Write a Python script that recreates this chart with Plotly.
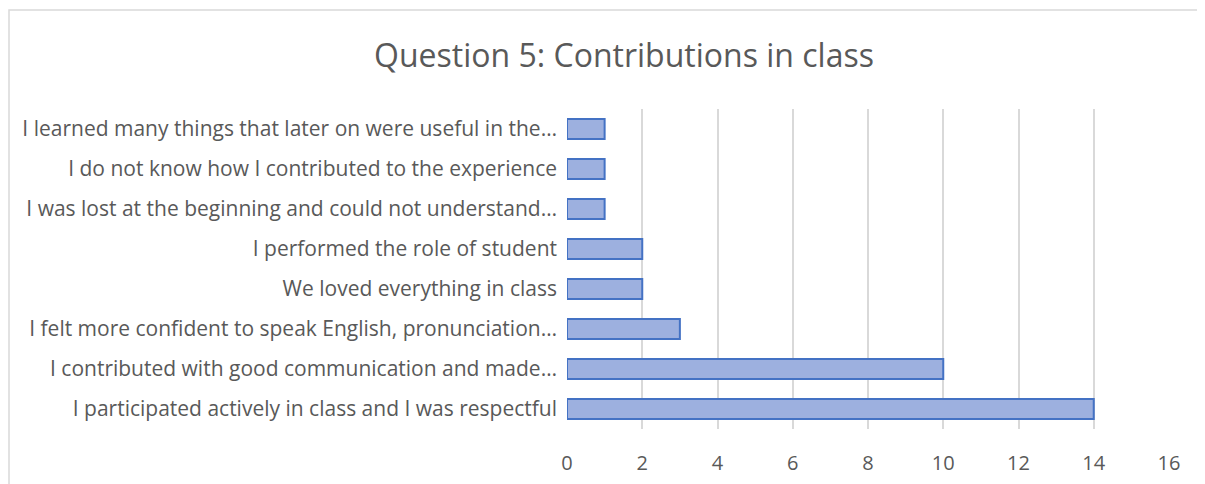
import plotly.graph_objects as go

# categories listed bottom to top, as drawn
categories = [
    "I participated actively in class and I was respectful",
    "I contributed with good communication and made…",
    "I felt more confident to speak English, pronunciation…",
    "We loved everything in class",
    "I performed the role of student",
    "I was lost at the beginning and could not understand…",
    "I do not know how I contributed to the experience",
    "I learned many things that later on were useful in the…",
]
counts = [14, 10, 3, 2, 2, 1, 1, 1]
x_ticks = [0, 2, 4, 6, 8, 10, 12, 14, 16]

font_family = "Open Sans, Liberation Sans, sans-serif"
grey = "#595959"

# the page has an 8px body margin, so the figure is sized to fill the rest
W, H = 1197, 476

fig = go.Figure()
fig.add_trace(go.Bar(
    x=counts,
    y=categories,
    orientation="h",
    marker=dict(color="#9DB0DF", line=dict(color="#4472C4", width=2)),
    width=0.5,
))

fig.update_layout(
    width=W,
    height=H,
    paper_bgcolor="white",
    plot_bgcolor="white",
    margin=dict(l=559, r=36, t=101, b=55),
    showlegend=False,
    font=dict(family=font_family, color=grey, size=20),
    title=dict(
        text="Question 5: Contributions in class",
        x=616 / W, xanchor="center",
        y=1 - 48 / H, yanchor="middle",
        font=dict(size=32, color=grey, family=font_family),
    ),
    xaxis=dict(
        range=[0, 16],
        tickvals=x_ticks,
        showgrid=True,
        gridcolor="#D9D9D9",
        gridwidth=2,
        zeroline=False,
        showline=False,
        ticks="",
        ticklabelstandoff=20,
        tickfont=dict(size=20, color=grey),
        automargin=False,
    ),
    yaxis=dict(
        showgrid=False,
        zeroline=False,
        showline=False,
        ticks="",
        ticklabelstandoff=9,
        tickfont=dict(size=21, color=grey),
        automargin=False,
    ),
    shapes=[dict(
        type="rect", xref="paper", yref="paper",
        x0=(9 - 567) / 602, x1=(1203 - 567) / 602,
        y0=-0.3, y1=(429 - 10) / 320,
        line=dict(color="#D9D9D9", width=1.5),
        layer="below",
    )],
)

fig.write_html("out.html")
